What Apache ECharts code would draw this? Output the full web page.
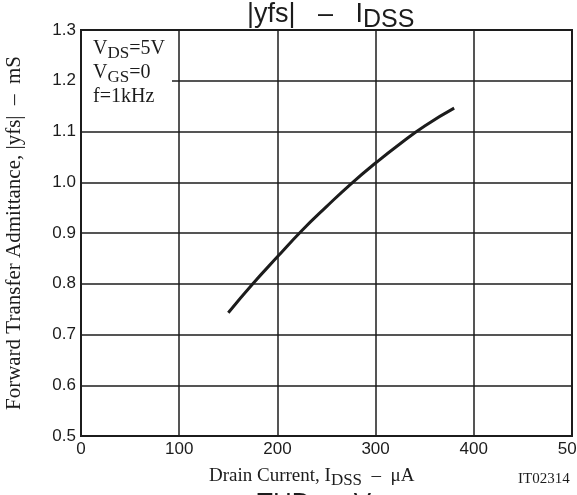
<!DOCTYPE html>
<html>
<head>
<meta charset="utf-8">
<script src="https://cdn.jsdelivr.net/npm/echarts@6/dist/echarts.min.js"></script>
<style>
  html, body { margin: 0; padding: 0; background: #fff; }
  #chart { width: 577px; height: 495px; }
</style>
</head>
<body>
<div id="chart"></div>
<script>
// |yfs| vs IDSS characteristic
const idss = [150, 175, 200, 225, 250, 275, 300, 325, 350, 380];
const yfs = [0.743, 0.800, 0.853, 0.905, 0.952, 0.997, 1.038, 1.076, 1.111, 1.146];
const xTicks = { min: 0, max: 500, step: 100 };
const yTicks = { min: 0.5, max: 1.3, step: 0.1 };
const conditions = ['V{sub|DS}=5V', 'V{sub|GS}=0', 'f=1kHz'];

const ink = '#1c1c1c';
const serif = '"Liberation Serif", "Times New Roman", serif';
const sans = '"Liberation Sans", Arial, Helvetica, sans-serif';

const chart = echarts.init(document.getElementById('chart'), null, { renderer: 'canvas' });

const option = {
  backgroundColor: '#fff',
  animation: false,
  grid: {
    left: 81, right: 5, top: 30, bottom: 59,
    containLabel: false,
    outerBoundsMode: 'none',
    show: true, borderColor: ink, borderWidth: 2, backgroundColor: 'transparent'
  },
  xAxis: {
    type: 'value',
    min: xTicks.min, max: xTicks.max, interval: xTicks.step,
    axisLine: { show: false },
    axisTick: { show: false },
    splitLine: { show: true, lineStyle: { color: ink, width: 1.5 } },
    axisLabel: { color: ink, fontFamily: sans, fontSize: 17, margin: 5 }
  },
  yAxis: {
    type: 'value',
    min: yTicks.min, max: yTicks.max, interval: yTicks.step,
    axisLine: { show: false },
    axisTick: { show: false },
    splitLine: { show: true, lineStyle: { color: ink, width: 1.5 } },
    axisLabel: {
      color: ink, fontFamily: sans, fontSize: 17, margin: 5,
      formatter: v => v.toFixed(1)
    },
    name: 'Forward Transfer Admittance, |yfs|  –  mS',
    nameLocation: 'middle',
    nameRotate: 90,
    nameGap: 56,
    nameTextStyle: { color: ink, fontFamily: serif, fontSize: 21 }
  },
  series: [{
    type: 'line',
    data: idss.map((x, i) => [x, yfs[i]]),
    smooth: true,
    symbol: 'none',
    lineStyle: { color: ink, width: 3 }
  }],
  graphic: [
    // chart title
    {
      type: 'text', left: 247, top: 1, z: 10,
      style: {
        text: '|yfs|   –   I{sub|DSS}',
        fill: ink, font: '27px ' + sans,
        rich: { sub: { fontSize: 25, fontFamily: sans, fill: ink, padding: [12, 0, 0, 0] } }
      }
    },
    // white panel behind the test conditions
    {
      type: 'rect', z: 5,
      shape: { x: 82, y: 31, width: 90, height: 86 },
      style: { fill: '#fff' }
    },
    {
      type: 'text', left: 93, top: 37, z: 10,
      style: {
        text: conditions.join('\n'),
        fill: ink, font: '20px ' + serif, lineHeight: 24,
        rich: { sub: { fontSize: 17, fontFamily: serif, fill: ink, padding: [10, 0, 0, 0] } }
      }
    },
    // x-axis title
    {
      type: 'text', left: 209, top: 467, z: 10,
      style: {
        text: 'Drain Current, I{sub|DSS}  –  μA',
        fill: ink, font: '19px ' + serif,
        rich: { sub: { fontSize: 17, fontFamily: serif, fill: ink, padding: [9, 0, 0, 0] } }
      }
    },
    {
      type: 'text', left: 518, top: 472, z: 10,
      style: { text: 'IT02314', fill: ink, font: '15px ' + serif }
    },
    // title of the following panel, clipped at the bottom edge
    {
      type: 'text', left: 257, top: 491, z: 10,
      style: { text: 'THD  –  V', fill: ink, font: '26px ' + sans }
    }
  ]
};

chart.setOption(option);
</script>
</body>
</html>
